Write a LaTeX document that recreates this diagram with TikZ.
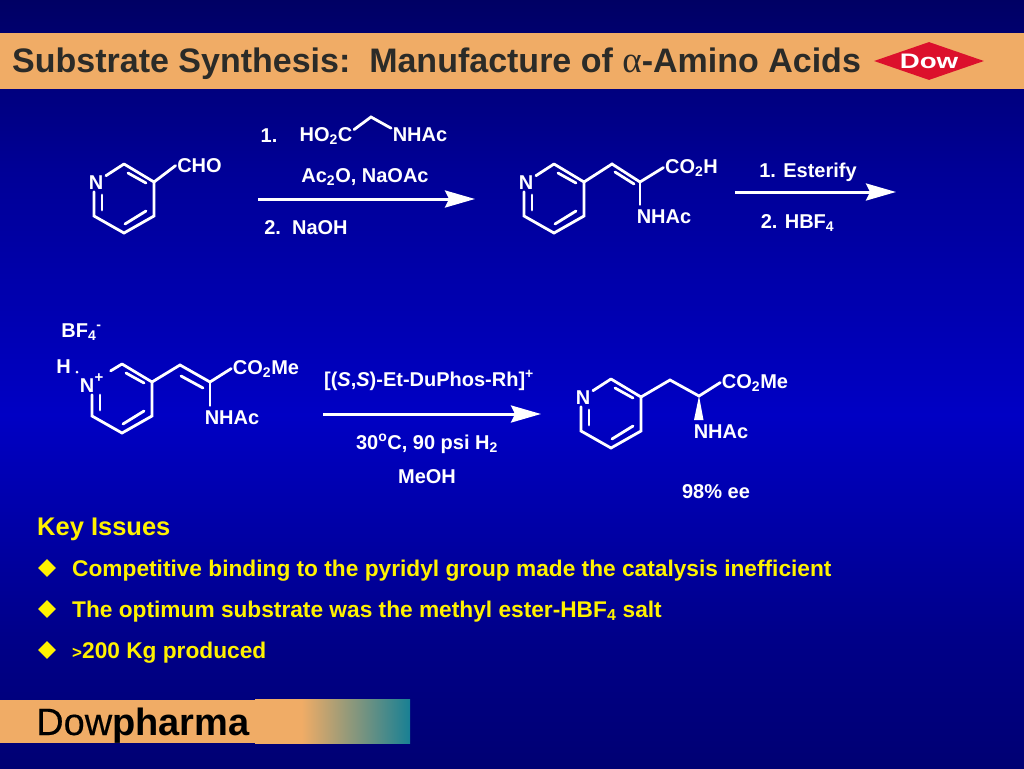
\documentclass[tikz,border=0pt]{standalone}
\usepackage{fontspec}
\setmainfont{Liberation Sans}
\newfontfamily\greekfont{Liberation Serif}
\newfontfamily\dowfont[FakeBold=0.35]{Liberation Sans}
\usetikzlibrary{arrows.meta,shapes.geometric}
\definecolor{bandor}{RGB}{240,172,102}
\definecolor{tealend}{RGB}{24,128,148}
\definecolor{titleink}{RGB}{43,43,40}
\definecolor{dowred}{RGB}{220,16,44}
\definecolor{bgA}{RGB}{0,0,100}
\definecolor{bgB}{RGB}{0,0,150}
\definecolor{bgC}{RGB}{0,0,196}
\definecolor{bgD}{RGB}{0,0,135}
\definecolor{bgE}{RGB}{0,0,115}
\pgfdeclareverticalshading{slidebg}{100bp}{
 color(0bp)=(bgE); color(25bp)=(bgE); color(33bp)=(bgD); color(48bp)=(bgC); color(64bp)=(bgB); color(75bp)=(bgA); color(100bp)=(bgA)}
\pgfdeclarehorizontalshading{footgrad}{100bp}{
 color(0bp)=(bandor); color(40bp)=(bandor); color(75bp)=(tealend); color(100bp)=(tealend)}
\newcommand\lowtxt[1]{\textsubscript{#1}}
\newcommand\hightxt[1]{\textsuperscript{#1}}
% ring: prefix, dx, dy, N x, N baseline, extra gap at N toward the top atom
\newcommand\pyridine[6]{%
\begin{scope}[shift={(#2,#3)},name prefix=#1-]
 \coordinate (top) at (124,164);
 \coordinate (rt) at (154,182);
 \coordinate (rb) at (154,216);
 \coordinate (bot) at (124,233);
 \coordinate (lb) at (94,216);
 \node[chem,inner sep=2.5pt] (n) at (#4,#5) {N};
 \coordinate (ia) at (128,173); \coordinate (ib) at (146,183);
 \coordinate (ic) at (125,224); \coordinate (id) at (146,211);
 \coordinate (ie) at (102,195); \coordinate (if) at (102,210);
 \draw[bond,shorten >=#6pt] (top) -- (n);
 \draw[bond] (top) -- (rt) -- (rb) -- (bot) -- (lb) -- (lb |- n.south);
 \draw[bond] (ia) -- (ib);
 \draw[bond] (ic) -- (id);
 \draw[bond] (ie) -- (if);
\end{scope}}
\tikzset{
 chem/.style={text=white,font=\bfseries\fontsize{20}{22}\selectfont,anchor=base,inner sep=1.5pt},
 bond/.style={draw=white,line width=2.8pt,line cap=round,line join=miter},
 rxn/.style={draw=white,line width=3pt,-{Stealth[length=30pt,width=17pt,inset=4pt]}},
 keytxt/.style={text=yellow,font=\bfseries\fontsize{22.7}{25}\selectfont,anchor=base west,inner sep=0pt},
 bul/.style={diamond,fill=yellow,inner sep=0pt,minimum width=18pt,minimum height=18pt},
}
\begin{document}
\begin{tikzpicture}[x=1pt,y=-1pt]
\useasboundingbox (0,0) rectangle (1024,768);
\shade[shading=slidebg] (0,0) rectangle (1024,768);
% title band
\fill[bandor] (0,33) rectangle (1024,88.5);
\node[anchor=base west,inner sep=0pt,text=titleink,font=\bfseries\fontsize{34}{36}\selectfont] (title) at (12,72) {Substrate Synthesis:\ \ Manufacture of {\greekfont\mdseries\fontsize{37}{36}\selectfont α}-Amino Acids};
% Dow logo
\node[diamond,fill=dowred,inner sep=0pt,minimum width=110pt,minimum height=38pt,aspect=2.9] (logo) at (929,61) {};
\node[inner sep=0pt,text=white,font=\bfseries\fontsize{21}{22}\selectfont] (dowtxt) at (929,61) {\scalebox{1.32}[1]{Dow}};
\node[inner sep=0pt,text=bandor,font=\fontsize{7}{8}\selectfont] (dowreg) at (957,75) {®};
% footer
\fill[bandor] (0,700) rectangle (255,742.5);
\shade[shading=footgrad] (255,699) rectangle (410,743);
\node[anchor=base west,inner sep=0pt,text=black,font=\fontsize{38}{40}\selectfont] (foot) at (36,735) {{\dowfont Dow}\textbf{pharma}};

% compound 1
\pyridine{ra}{0}{0}{96}{189}{0}
\node[chem] (cho) at (199.5,172.5) {CHO};
\draw[bond] (ra-rt) -- (cho.west);

% reagents 1
\node[chem] (one) at (269,142) {1.};
\node[chem] (ho) at (326,141) {HO\lowtxt{2}C};
\node[chem] (nh) at (420,141) {NHAc};
\coordinate (apex) at (371,117);
\draw[bond] ([yshift=6pt]ho.east) -- (apex) -- ([yshift=6pt]nh.west);
\node[chem] (ac) at (365,182) {Ac\lowtxt{2}O, NaOAc};
\node[chem] (naoh) at (306,234) {2.\ \ NaOH};
\coordinate (a1s) at (258,199); \coordinate (a1e) at (475,199);
\draw[rxn] (a1s) -- (a1e);

% compound 2
\pyridine{rb}{430}{0}{96}{189}{0}
\coordinate (b1) at (612,164); \coordinate (b2) at (640,182);
\coordinate (b3) at (615,172); \coordinate (b4) at (634,184);
\node[chem] (co2h) at (691.5,173) {CO\lowtxt{2}H};
\node[chem] (nhb) at (664,223) {NHAc};
\draw[bond] (rb-rt) -- (b1) -- (b2) -- (co2h.west);
\draw[bond] (b3) -- (b4);
\draw[bond] (b2) -- ([yshift=3pt]b2 |- nhb.north);

% reagents 2
\node[chem] (est) at (808,177) {1. Esterify};
\node[chem] (hbf) at (797.5,228) {2. HBF\lowtxt{4}};
\coordinate (a2s) at (735,192); \coordinate (a2e) at (896,192);
\draw[rxn] (a2s) -- (a2e);

% compound 3
\node[chem,text=white] (bf) at (81.5,337) {BF\lowtxt{4}\hightxt{-}};
\node[chem] (h) at (63.5,373) {H};
\node[circle,fill=white,inner sep=0pt,minimum size=3pt] (hdot) at (77,372) {};
\pyridine{rc}{-2}{200}{89}{192}{16}
\node[chem,font=\bfseries\fontsize{15}{16}\selectfont] (plus) at (99,382) {+};
\coordinate (c1) at (180,365); \coordinate (c2) at (210,382);
\coordinate (c3) at (181,376); \coordinate (c4) at (203,388);
\node[chem] (co2me) at (266,374) {CO\lowtxt{2}Me};
\node[chem] (nhc) at (232,424) {NHAc};
\draw[bond] (rc-rt) -- (c1) -- (c2) -- (co2me.west);
\draw[bond] (c3) -- (c4);
\draw[bond] (c2) -- ([yshift=3pt]c2 |- nhc.north);

% reagents 3
\node[chem] (cat) at (429,386) {[(\textit{S},\textit{S})-Et-DuPhos-Rh]\hightxt{+}};
\coordinate (a3s) at (323,414); \coordinate (a3e) at (541,414);
\draw[rxn] (a3s) -- (a3e);
\node[chem] (cond) at (427,449) {30\hightxt{o}C, 90 psi H\lowtxt{2}};
\node[chem] (meoh) at (427,483) {MeOH};

% compound 4
\pyridine{rd}{487}{215}{96}{189}{0}
\coordinate (d1) at (670,380); \coordinate (d2) at (699,396);
\node[chem] (co2mf) at (755,388) {CO\lowtxt{2}Me};
\node[chem] (nhd) at (721,438) {NHAc};
\draw[bond] (rd-rt) -- (d1) -- (d2) -- (co2mf.west);
\coordinate (wl) at (694,420); \coordinate (wr) at (703.5,420);
\fill[white] (d2) -- (wl) -- (wr) -- cycle;
\node[chem] (ee) at (716,498) {98\% ee};

% key issues
\node[keytxt,font=\bfseries\fontsize{25.5}{27}\selectfont] (key) at (37,535) {Key Issues};
\node[bul] (b-a) at (47,568) {};
\node[keytxt] (ta) at (72,576) {Competitive binding to the pyridyl group made the catalysis inefficient};
\node[bul] (b-b) at (47,609) {};
\node[keytxt] (tb) at (72,617) {The optimum substrate was the methyl ester-HBF\lowtxt{4} salt};
\node[bul] (b-c) at (47,650) {};
\node[keytxt] (tc) at (72,658) {{\fontsize{17}{20}\selectfont >}200 Kg produced};
\end{tikzpicture}
\end{document}
